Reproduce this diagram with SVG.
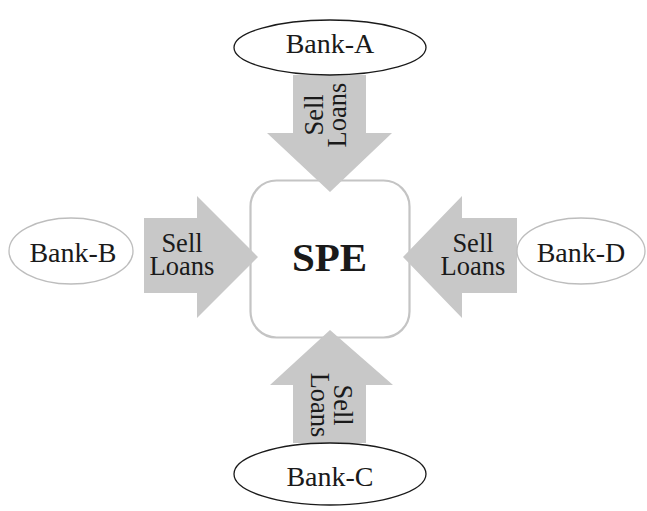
<svg xmlns="http://www.w3.org/2000/svg" width="647" height="511" viewBox="0 0 647 511">
<style>
.bank{fill:#fff;stroke-width:1.3}
.dark{stroke:#1a1a1a}
.light{stroke:#bdbdbd}
.arrow{fill:#c8c8c8;stroke:none}
.t{font-family:"Liberation Serif","Times New Roman",serif;fill:#1a1a1a;text-anchor:middle}
.bt{font-size:28px}
.st{font-size:26.5px}
</style>
<rect width="647" height="511" fill="#fff"/>
<g id="SPE">
<rect x="250.5" y="180.5" width="159" height="157" rx="26" fill="#fff" stroke="#c4c4c4" stroke-width="2.2"/>
<text class="t" x="329.5" y="271" font-size="41" font-weight="bold">SPE</text>
</g>
<g id="connectors">
<g id="arrow-A">
<polygon class="arrow" points="293,75 366,75 366,133 392,133 330,192 267,133 293,133"/>
<text class="t st" transform="translate(323,115) rotate(-90)"><tspan x="0" y="0">Sell</tspan><tspan x="0" y="23">Loans</tspan></text>
</g>
<g id="arrow-B">
<polygon class="arrow" points="144,218 197,218 197,196 258,257 197,318 197,293 144,293"/>
<text class="t st"><tspan x="182" y="252">Sell</tspan><tspan x="182" y="275">Loans</tspan></text>
</g>
<g id="arrow-D">
<polygon class="arrow" points="517,218 462,218 462,196 403,257 462,318 462,293 517,293"/>
<text class="t st"><tspan x="473" y="252">Sell</tspan><tspan x="473" y="275">Loans</tspan></text>
</g>
<g id="arrow-C">
<polygon class="arrow" points="293,443 366,443 366,385 393,385 330,330 270,385 293,385"/>
<text class="t st" transform="translate(334,405) rotate(90)"><tspan x="0" y="0">Sell</tspan><tspan x="0" y="23">Loans</tspan></text>
</g>
</g>
<g id="Bank-A">
<ellipse class="bank dark" cx="330" cy="47.5" rx="96" ry="27.5"/>
<text class="t bt" x="330" y="53">Bank-A</text>
</g>
<g id="Bank-B">
<ellipse class="bank light" cx="71" cy="251" rx="62" ry="33"/>
<text class="t bt" x="73" y="262">Bank-B</text>
</g>
<g id="Bank-D">
<ellipse class="bank light" cx="581" cy="251" rx="64" ry="33"/>
<text class="t bt" x="581" y="262">Bank-D</text>
</g>
<g id="Bank-C">
<ellipse class="bank dark" cx="330" cy="474" rx="96" ry="31"/>
<text class="t bt" x="330" y="486">Bank-C</text>
</g>
</svg>
